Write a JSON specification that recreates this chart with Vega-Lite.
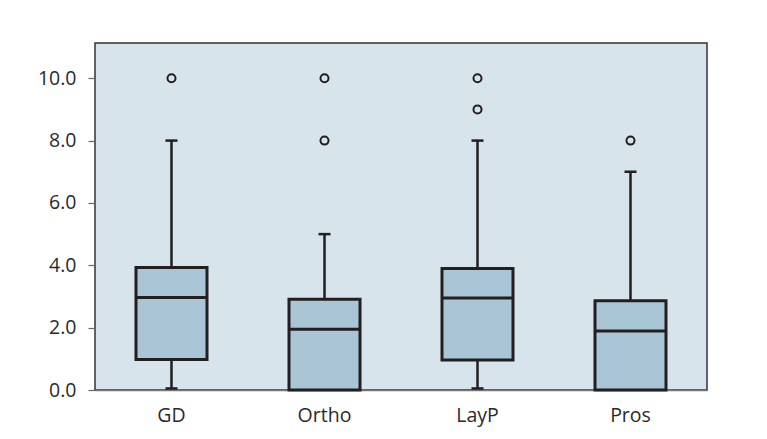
{
  "$schema": "https://vega.github.io/schema/vega-lite/v6.json",
  "autosize": "none",
  "width": 612,
  "height": 347,
  "padding": {"left": 95, "top": 43, "right": 60, "bottom": 49},
  "background": "white",
  "config": {
    "view": {"fill": "#d8e4ec", "stroke": "#333333", "strokeWidth": 1.5},
    "font": "Open Sans",
    "axis": {"labelFont": "Open Sans", "labelFontSize": 19.5, "labelColor": "#2a2a2a", "grid": false}
  },
  "datasets": {
    "stats": [
      {"group": "GD", "lo": 0.05, "q1": 0.98, "med": 2.97, "q3": 3.93, "hi": 8.0},
      {"group": "Ortho", "lo": 0.0, "q1": 0.0, "med": 1.95, "q3": 2.91, "hi": 5.0},
      {"group": "LayP", "lo": 0.05, "q1": 0.96, "med": 2.95, "q3": 3.9, "hi": 8.0},
      {"group": "Pros", "lo": 0.0, "q1": 0.0, "med": 1.89, "q3": 2.86, "hi": 7.0}
    ],
    "caps": [
      {"group": "GD", "value": 0.05},
      {"group": "GD", "value": 8.0},
      {"group": "Ortho", "value": 5.0},
      {"group": "LayP", "value": 0.05},
      {"group": "LayP", "value": 8.0},
      {"group": "Pros", "value": 7.0}
    ],
    "outliers": [
      {"group": "GD", "value": 10},
      {"group": "Ortho", "value": 10},
      {"group": "Ortho", "value": 8},
      {"group": "LayP", "value": 10},
      {"group": "LayP", "value": 9},
      {"group": "Pros", "value": 8}
    ]
  },
  "encoding": {
    "x": {
      "field": "group", "type": "nominal",
      "sort": ["GD", "Ortho", "LayP", "Pros"],
      "scale": {"paddingInner": 0, "paddingOuter": 0},
      "axis": {"title": null, "labelAngle": 0, "ticks": false, "domainColor": "#777777", "domainWidth": 1.5, "labelPadding": 16}
    }
  },
  "layer": [
    {
      "data": {"name": "stats"},
      "mark": {"type": "rule", "stroke": "#231f20", "strokeWidth": 2.5},
      "encoding": {
        "y": {
          "field": "lo", "type": "quantitative",
          "scale": {"domain": [0, 11.13], "nice": false},
          "axis": {"title": null, "values": [0, 2, 4, 6, 8, 10], "format": ".1f", "domain": false, "tickColor": "#666666", "tickSize": 7, "tickWidth": 1.2, "labelPadding": 12}
        },
        "y2": {"field": "hi"}
      }
    },
    {
      "data": {"name": "stats"},
      "mark": {"type": "bar", "size": 71, "fill": "#a9c5d6", "stroke": "#231f20", "strokeWidth": 3},
      "encoding": {
        "y": {"field": "q1", "type": "quantitative"},
        "y2": {"field": "q3"}
      }
    },
    {
      "data": {"name": "stats"},
      "mark": {"type": "tick", "size": 71, "thickness": 3, "color": "#231f20", "opacity": 1},
      "encoding": {
        "y": {"field": "med", "type": "quantitative"}
      }
    },
    {
      "data": {"name": "caps"},
      "mark": {"type": "tick", "size": 12, "thickness": 2.5, "color": "#231f20", "opacity": 1},
      "encoding": {
        "y": {"field": "value", "type": "quantitative"}
      }
    },
    {
      "data": {"name": "outliers"},
      "mark": {"type": "point", "shape": "circle", "filled": false, "stroke": "#231f20", "strokeWidth": 2, "size": 65, "opacity": 1},
      "encoding": {
        "y": {"field": "value", "type": "quantitative"}
      }
    }
  ]
}
